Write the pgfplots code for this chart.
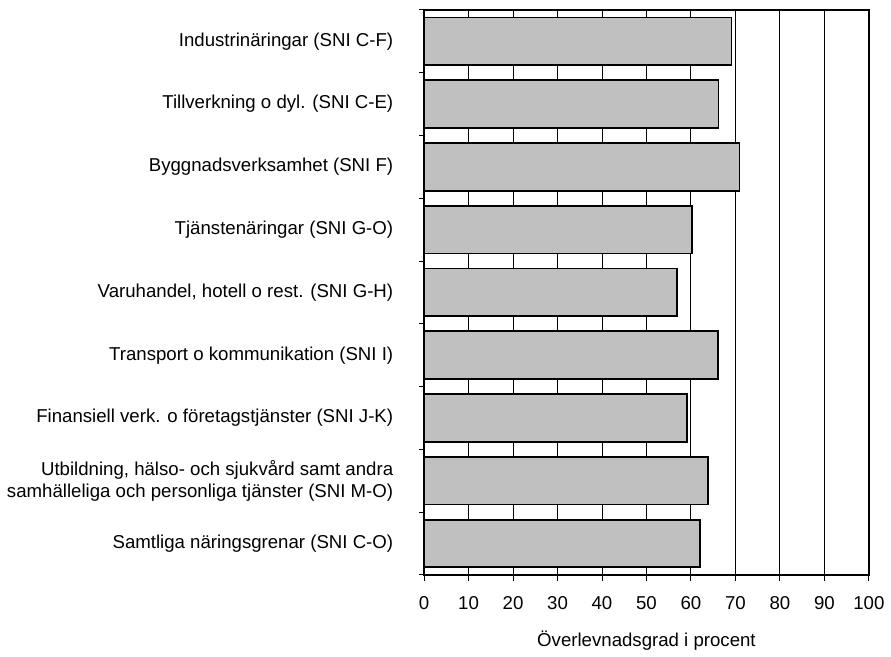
\documentclass[border=0pt]{standalone}
\usepackage{fontspec}
\setmainfont{Liberation Sans}
\usepackage{pgfplots}
\pgfplotsset{compat=1.18}
\definecolor{barfill}{RGB}{192,192,192}

\begin{document}
\begin{tikzpicture}
\begin{axis}[
    name=ax,
    scale only axis,
    width=223.2bp, height=283.5bp,
    xbar, bar width=0.76, bar shift=0pt,
    xmin=0, xmax=100,
    ymin=0.5, ymax=9.5,
    y dir=reverse,
    xtick={0,10,...,100},
    ytick={1,...,9},
    yticklabels={
        Industrinäringar (SNI C-F),
        Tillverkning o dyl. (SNI C-E),
        Byggnadsverksamhet (SNI F),
        Tjänstenäringar (SNI G-O),
        {Varuhandel, hotell o rest. (SNI G-H)},
        Transport o kommunikation (SNI I),
        Finansiell verk. o företagstjänster (SNI J-K),
        {Utbildning, hälso- och sjukvård samt andra\\samhälleliga och personliga tjänster (SNI M-O)},
        Samtliga näringsgrenar (SNI C-O)},
    minor ytick={0.5,1.5,...,9.5},
    xtick pos=bottom, ytick pos=left,
    tick align=outside,
    major tick length=3bp, minor tick length=2.5bp,
    y tick style={draw=none},
    minor y tick style={draw=black, line width=0.5bp},
    x tick style={black, line width=0.5bp},
    xmajorgrids,
    grid style={black, line width=0.45bp},
    axis line style={line width=0.9bp},
    /pgf/number format/assume math mode=true,
    tick label style={font=\fontsize{9.35bp}{11bp}\selectfont},
    yticklabel style={align=right, xshift=-9bp},
    xticklabel style={yshift=-4.5bp},
    xlabel={Överlevnadsgrad i procent},
    xlabel style={font=\fontsize{9.35bp}{11bp}\selectfont, yshift=-3.5bp},
]
\addplot[fill=barfill, draw=black, line width=0.9bp] coordinates {
    (69.1,1) (66.2,2) (70.9,3) (60.2,4) (56.9,5)
    (66.1,6) (59.1,7) (63.9,8) (62.0,9)
};
\end{axis}
\path[use as bounding box] ([shift={(-212.85bp,-35.5bp)}]ax.south west)
    rectangle ([shift={(232.65bp,288.5bp)}]ax.south west);
\end{tikzpicture}
\end{document}
